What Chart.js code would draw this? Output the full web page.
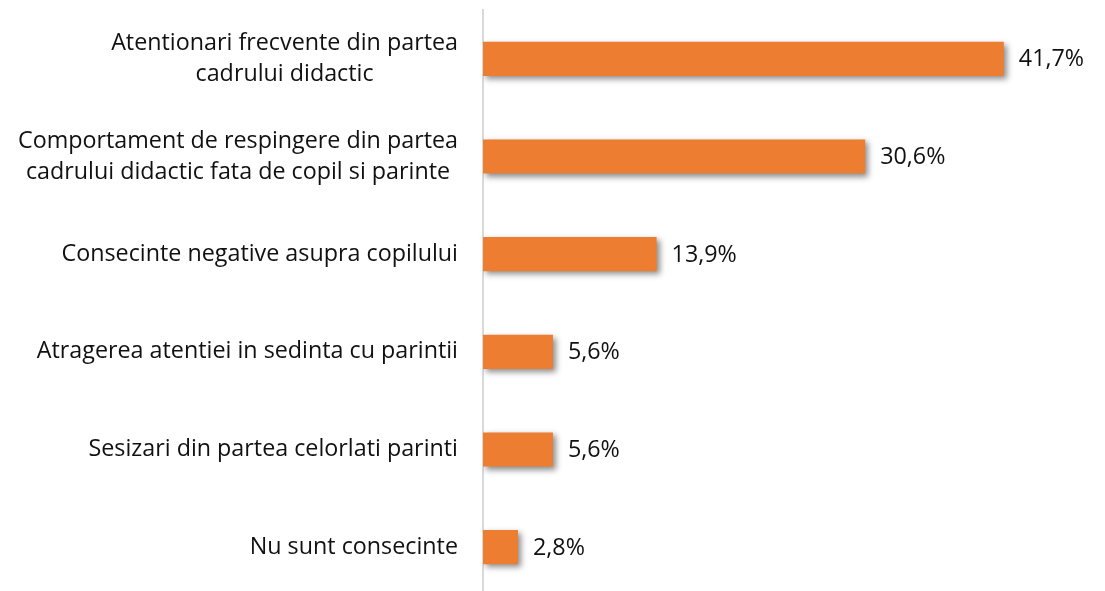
<!DOCTYPE html>
<html>
<head>
<meta charset="utf-8">
<script src="https://cdn.jsdelivr.net/npm/chart.js@4/dist/chart.umd.min.js"></script>
<style>
  html, body { margin: 0; background: #fff; overflow: hidden; }
  #wrap { width: 1105px; height: 596px; position: relative; }
</style>
</head>
<body>
<div id="wrap"><canvas id="chart"></canvas></div>
<script>
const categories = [
  ["Atentionari frecvente din partea", "cadrului didactic"],
  ["Comportament de respingere din partea", "cadrului didactic fata de copil si parinte"],
  "Consecinte negative asupra copilului",
  "Atragerea atentiei in sedinta cu parintii",
  "Sesizari din partea celorlati parinti",
  "Nu sunt consecinte"
]
const percentages = [41.7, 30.6, 13.9, 5.6, 5.6, 2.8]
const valueLabels = ["41,7%", "30,6%", "13,9%", "5,6%", "5,6%", "2,8%"]

const FONT = "23.3px 'Open Sans', Lato, sans-serif"

// soft drop shadow under the bars, like the office chart
const barShadow = {
  id: "barShadow",
  beforeDatasetsDraw(chart) {
    const ctx = chart.ctx
    ctx.save()
    ctx.shadowColor = "rgba(0, 0, 0, 0.45)"
    ctx.shadowBlur = 6
    ctx.shadowOffsetX = 3
    ctx.shadowOffsetY = 3
  },
  afterDatasetsDraw(chart) {
    chart.ctx.restore()
  }
}

// category labels: lines centered inside a right-aligned block, and value labels
const textLabels = {
  id: "textLabels",
  afterDraw(chart) {
    const ctx = chart.ctx
    const yScale = chart.scales.y
    const meta = chart.getDatasetMeta(0)
    ctx.save()
    ctx.font = FONT
    ctx.fillStyle = "#111"
    ctx.textBaseline = "middle"
    const lineH = 31
    const right = yScale.right - 25
    categories.forEach((label, i) => {
      const lines = Array.isArray(label) ? label : [label]
      const y = yScale.getPixelForTick(i)
      const widest = Math.max(...lines.map(l => ctx.measureText(l).width))
      ctx.textAlign = "center"
      lines.forEach((line, j) => {
        const ly = y + (j - (lines.length - 1) / 2) * lineH
        ctx.fillText(line, right - widest / 2, ly)
      })
    })
    ctx.textAlign = "left"
    meta.data.forEach((bar, i) => {
      ctx.fillText(valueLabels[i], bar.x + 15, bar.y + 1)
    })
    ctx.restore()
  }
}

new Chart(document.getElementById("chart"), {
  type: "bar",
  data: {
    labels: categories,
    datasets: [{
      data: percentages,
      backgroundColor: "#ED7D31",
      borderWidth: 0,
      categoryPercentage: 1,
      barPercentage: 0.35
    }]
  },
  options: {
    indexAxis: "y",
    responsive: true,
    maintainAspectRatio: false,
    animation: false,
    layout: { padding: { top: 10, bottom: 0, left: 0, right: 0 } },
    plugins: {
      legend: { display: false },
      tooltip: { enabled: false }
    },
    scales: {
      x: {
        display: false,
        min: 0,
        max: 49.8
      },
      y: {
        afterFit: (scale) => { scale.width = 483 },
        grid: { display: false },
        border: { display: true, color: "#d9d9d9", width: 2 },
        ticks: { display: false }
      }
    }
  },
  plugins: [barShadow, textLabels]
})
</script>
</body>
</html>
